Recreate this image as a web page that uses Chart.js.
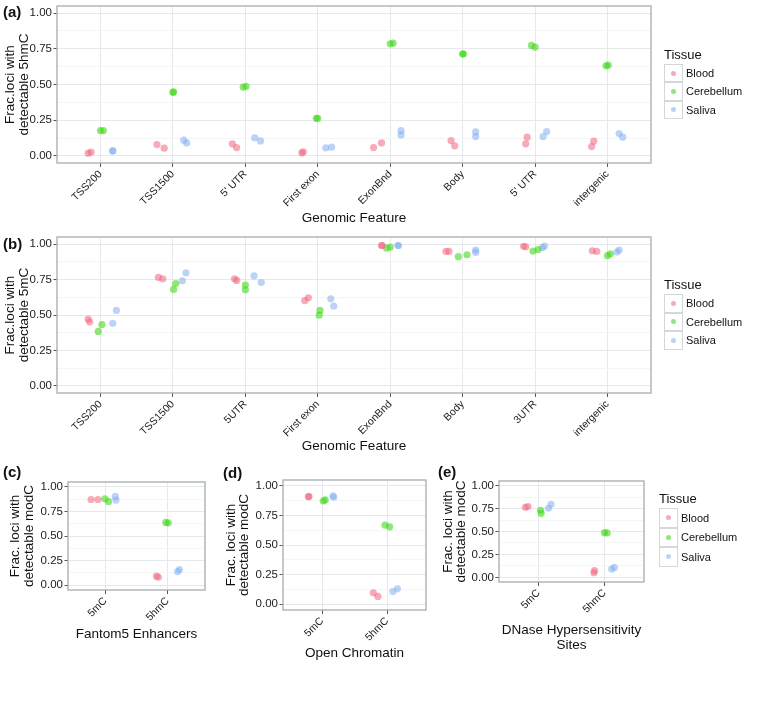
<!DOCTYPE html>
<html>
<head>
<meta charset="utf-8">
<script src="https://cdn.jsdelivr.net/npm/chart.js@4.4.1/dist/chart.umd.min.js"></script>
<style>
  body { margin: 0; background: #fff; }
  #wrap { position: relative; width: 760px; height: 719px; font-family: 'Liberation Sans', Arial, Helvetica, sans-serif; color: #111; }
  #wrap canvas { position: absolute; left: 0; top: 0; }
  .tag { position: absolute; font-size: 15px; font-weight: bold; line-height: 15px; }
  .legend { position: absolute; font-size: 11px; }
  .legend .title { font-size: 13px; line-height: 14px; height: 14px; }
  .legend .row { display: flex; align-items: center; }
  .legend .key { box-sizing: border-box; width: 19px; border: 1px solid #d3d8da; position: relative; background: #fff; }
  .legend .key span { position: absolute; left: 50%; top: 50%; width: 5px; height: 5px; margin: -2.5px 0 0 -2.5px; border-radius: 50%; }
  .legend .lab { margin-left: 3px; }
</style>
</head>
<body>
<div id="wrap">
  <canvas id="panelA" width="760" height="719"></canvas>
  <canvas id="panelB" width="760" height="719"></canvas>
  <canvas id="panelC" width="760" height="719"></canvas>
  <canvas id="panelD" width="760" height="719"></canvas>
  <canvas id="panelE" width="760" height="719"></canvas>
  <div class="tag" style="left:3px; top:4px;">(a)</div>
  <div class="tag" style="left:3px; top:236px;">(b)</div>
  <div class="tag" style="left:3px; top:464px;">(c)</div>
  <div class="tag" style="left:223px; top:465px;">(d)</div>
  <div class="tag" style="left:438px; top:464px;">(e)</div>
</div>
<script>
// categories
const tissues = ['Blood', 'Cerebellum', 'Saliva'];
const tissueColors = ['rgba(240,100,125,0.55)', 'rgba(60,215,20,0.58)', 'rgba(130,175,240,0.55)'];
const featuresA = ['TSS200', 'TSS1500', "5' UTR", 'First exon', 'ExonBnd', 'Body', "5' UTR", 'intergenic'];
const featuresB = ['TSS200', 'TSS1500', '5UTR', 'First exon', 'ExonBnd', 'Body', '3UTR', 'intergenic'];
const modC = ['5mC', '5hmC'];
const yMajor = [0, 0.25, 0.5, 0.75, 1];

// (a) fraction of loci with detectable 5hmC, two samples per tissue, with jitter
const bloodA = [[0.019, 0.026], [0.079, 0.054], [0.084, 0.058], [0.021, 0.028], [0.058, 0.091], [0.107, 0.070], [0.084, 0.131], [0.065, 0.103]];
const bloodAJit = [[-0.17, -0.13], [-0.22, -0.12], [-0.18, -0.12], [-0.22, -0.20], [-0.23, -0.12], [-0.16, -0.11], [-0.13, -0.11], [-0.22, -0.19]];
const cerebA = [[0.177, 0.177], [0.445, 0.448], [0.482, 0.487], [0.263, 0.263], [0.785, 0.790], [0.713, 0.715], [0.774, 0.762], [0.631, 0.636]];
const cerebAJit = [[0, 0.04], [0, 0.01], [-0.03, 0.01], [-0.02, 0], [0, 0.04], [0, 0.01], [-0.05, 0], [-0.02, 0.01]];
const salivaA = [[0.037, 0.033], [0.110, 0.091], [0.126, 0.105], [0.056, 0.061], [0.177, 0.147], [0.168, 0.135], [0.135, 0.170], [0.156, 0.131]];
const salivaAJit = [[0.17, 0.17], [0.15, 0.19], [0.13, 0.21], [0.11, 0.19], [0.15, 0.15], [0.18, 0.18], [0.11, 0.16], [0.16, 0.21]];

// (b) 5mC
const bloodB = [[0.471, 0.452], [0.765, 0.755], [0.755, 0.744], [0.602, 0.621], [0.990, 0.990], [0.948, 0.948], [0.984, 0.981], [0.953, 0.948]];
const bloodBJit = [[-0.17, -0.15], [-0.20, -0.14], [-0.15, -0.12], [-0.18, -0.13], [-0.12, -0.11], [-0.23, -0.19], [-0.16, -0.13], [-0.21, -0.15]];
const cerebB = [[0.384, 0.433], [0.680, 0.722], [0.711, 0.678], [0.532, 0.499], [0.972, 0.979], [0.911, 0.925], [0.951, 0.962], [0.918, 0.932]];
const cerebBJit = [[-0.03, 0.02], [0.01, 0.04], [0, 0], [0.03, 0.02], [-0.05, 0], [-0.06, 0.06], [-0.03, 0.04], [0, 0.04]];
const salivaB = [[0.442, 0.532], [0.741, 0.798], [0.776, 0.729], [0.614, 0.562], [0.990, 0.990], [0.958, 0.941], [0.976, 0.986], [0.944, 0.958]];
const salivaBJit = [[0.17, 0.22], [0.13, 0.18], [0.12, 0.22], [0.18, 0.22], [0.11, 0.11], [0.18, 0.18], [0.10, 0.13], [0.13, 0.16]];

// (c) Fantom5 enhancers
const bloodC = [[0.872, 0.872], [0.091, 0.081]];
const bloodCJit = [[-0.23, -0.12], [-0.18, -0.15]];
const cerebC = [[0.879, 0.852], [0.638, 0.634]];
const cerebCJit = [[-0.01, 0.05], [-0.03, 0.01]];
const salivaC = [[0.903, 0.866], [0.138, 0.158]];
const salivaCJit = [[0.16, 0.17], [0.16, 0.19]];

// (d) open chromatin
const bloodD = [[0.910, 0.910], [0.096, 0.065]];
const bloodDJit = [[-0.21, -0.20], [-0.21, -0.14]];
const cerebD = [[0.873, 0.882], [0.668, 0.654]];
const cerebDJit = [[0.02, 0.05], [-0.03, 0.04]];
const salivaD = [[0.915, 0.904], [0.106, 0.129]];
const salivaDJit = [[0.17, 0.18], [0.09, 0.16]];

// (e) DNase hypersensitivity sites
const bloodE = [[0.764, 0.771], [0.051, 0.073]];
const bloodEJit = [[-0.20, -0.16], [-0.16, -0.15]];
const cerebE = [[0.731, 0.698], [0.487, 0.484]];
const cerebEJit = [[0.03, 0.04], [0, 0.04]];
const salivaE = [[0.753, 0.796], [0.091, 0.109]];
const salivaEJit = [[0.15, 0.19], [0.11, 0.15]];


const FONT = "'Liberation Sans', Arial, Helvetica, sans-serif";
Chart.defaults.font.family = FONT;

// grey frame round the plot area, like ggplot's panel.border
const panelBorder = {
  id: 'panelBorder',
  afterDatasetsDraw(chart) {
    const {ctx, chartArea: a} = chart;
    ctx.save();
    ctx.strokeStyle = '#a5acaf';
    ctx.lineWidth = 1.3;
    ctx.strokeRect(a.left, a.top, a.right - a.left, a.bottom - a.top);
    ctx.restore();
  }
};

function isMajor(v) {
  return yMajor.some(m => Math.abs(m - v) < 1e-9);
}

function createPanel(canvasId, labels, series, box, yTitle, xTitle) {
  const yLH = 13.5;
  const xLH = 13.5 * 1.1;
  const xLines = Array.isArray(xTitle) ? xTitle.length : 1;
  const axisLeft = box.yTitleX - yLH / 2 - 3;
  const yAxisW = box.l - axisLeft;
  const axisBottom = box.xTitleY + xLH / 2 + xLH * (xLines - 1);
  const xAxisH = axisBottom - box.b;

  const yTicks = [];
  yMajor.forEach((v, i) => {
    yTicks.push(v);
    if (i < yMajor.length - 1) yTicks.push((v + yMajor[i + 1]) / 2);
  });

  const datasets = series.map((s, k) => ({
    label: tissues[k],
    data: s.values.flatMap((pair, i) => pair.map((v, j) => ({x: i + s.jitter[i][j], y: v}))),
    backgroundColor: tissueColors[k],
    pointBackgroundColor: tissueColors[k],
    pointBorderWidth: 0,
    pointRadius: 3.6,
    showLine: false
  }));

  new Chart(document.getElementById(canvasId).getContext('2d'), {
    type: 'scatter',
    data: {datasets: datasets},
    options: {
      responsive: false,
      animation: false,
      events: [],
      layout: {padding: {left: axisLeft, top: box.t, right: 760 - box.r, bottom: 719 - axisBottom}},
      plugins: {legend: {display: false}, tooltip: {enabled: false}},
      scales: {
        x: {
          type: 'linear',
          min: -0.6,
          max: labels.length - 0.4,
          afterBuildTicks: s => { s.ticks = labels.map((l, i) => ({value: i})); },
          afterFit: s => { s.height = xAxisH; },
          ticks: {
            autoSkip: false, minRotation: 45, maxRotation: 45, padding: 1,
            color: '#222', font: {size: 10.5},
            callback: v => labels[v]
          },
          grid: {color: '#e6e9eb', tickColor: '#555', tickLength: 4},
          border: {display: false},
          title: {display: true, text: xTitle, color: '#111', padding: 0, font: {size: 13.5, lineHeight: 1.1}}
        },
        y: {
          min: -0.05,
          max: 1.05,
          afterBuildTicks: s => { s.ticks = yTicks.map(v => ({value: v})); },
          afterFit: s => { s.width = yAxisW; },
          ticks: {
            padding: 1.5, color: '#222', font: {size: 11.5, lineHeight: 0.7},
            callback: v => isMajor(v) ? v.toFixed(2) : ''
          },
          grid: {
            color: c => isMajor(c.tick.value) ? '#e6e9eb' : '#f4f5f6',
            tickColor: c => isMajor(c.tick.value) ? '#555' : 'rgba(0,0,0,0)',
            tickLength: 3.5
          },
          border: {display: false},
          title: {display: true, text: yTitle, color: '#111', padding: {top: 3, bottom: 0}, font: {size: 13.5, lineHeight: 1.0}}
        }
      }
    },
    plugins: [panelBorder]
  });
}

function createLegend(left, top, keyH) {
  const div = document.createElement('div');
  div.className = 'legend';
  div.style.left = left + 'px';
  div.style.top = top + 'px';
  let html = '<div class="title">Tissue</div><div style="height:2px"></div>';
  tissues.forEach((t, i) => {
    html += '<div class="row" style="height:' + keyH + 'px"><div class="key" style="height:' + keyH +
      'px"><span style="background:' + tissueColors[i] + '"></span></div><div class="lab">' + t + '</div></div>';
  });
  div.innerHTML = html;
  document.getElementById('wrap').appendChild(div);
}

createPanel('panelA', featuresA, [
  {values: bloodA, jitter: bloodAJit},
  {values: cerebA, jitter: cerebAJit},
  {values: salivaA, jitter: salivaAJit}
], {l: 57, t: 6, r: 651, b: 163, yTitleX: 10.5, xTitleY: 218},
  ['Frac.loci with', 'detectable 5hmC'], 'Genomic Feature');

createPanel('panelB', featuresB, [
  {values: bloodB, jitter: bloodBJit},
  {values: cerebB, jitter: cerebBJit},
  {values: salivaB, jitter: salivaBJit}
], {l: 57, t: 237, r: 651, b: 393, yTitleX: 10.5, xTitleY: 446},
  ['Frac.loci with', 'detectable 5mC'], 'Genomic Feature');

createPanel('panelC', modC, [
  {values: bloodC, jitter: bloodCJit},
  {values: cerebC, jitter: cerebCJit},
  {values: salivaC, jitter: salivaCJit}
], {l: 68, t: 482, r: 205, b: 590, yTitleX: 15.5, xTitleY: 634},
  ['Frac. loci with', 'detectable modC'], 'Fantom5 Enhancers');

createPanel('panelD', modC, [
  {values: bloodD, jitter: bloodDJit},
  {values: cerebD, jitter: cerebDJit},
  {values: salivaD, jitter: salivaDJit}
], {l: 283, t: 480, r: 426, b: 610, yTitleX: 231, xTitleY: 653},
  ['Frac. loci with', 'detectable modC'], 'Open Chromatin');

createPanel('panelE', modC, [
  {values: bloodE, jitter: bloodEJit},
  {values: cerebE, jitter: cerebEJit},
  {values: salivaE, jitter: salivaEJit}
], {l: 499, t: 481, r: 644, b: 582, yTitleX: 448, xTitleY: 630},
  ['Frac. loci with', 'detectable modC'], ['DNase Hypersensitivity', 'Sites']);

createLegend(664, 48, 18.3);
createLegend(664, 278, 18.5);
createLegend(659, 492, 19.5);
</script>
</body>
</html>
